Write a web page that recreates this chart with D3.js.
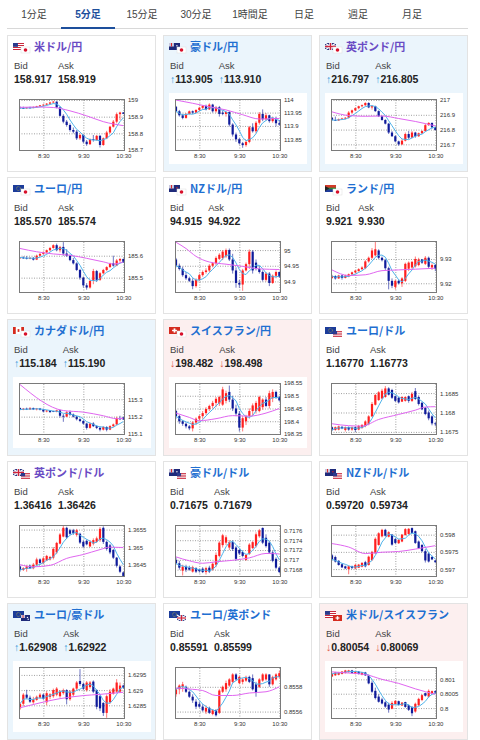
<!DOCTYPE html>
<html>
<head>
<meta charset="utf-8">
<script src="https://cdn.jsdelivr.net/npm/d3@7"></script>
<style>
body { margin: 0; background: #fff; }
.tab { font: 10px "Liberation Sans", "Noto Sans CJK JP", sans-serif; fill: #444; text-anchor: middle; }
.tab.on { font-weight: bold; fill: #1d4f9c; }
.title { font: bold 11px "Noto Sans CJK JP", sans-serif; }
.lbl { font: 9.5px "Liberation Sans", Arial, sans-serif; fill: #444; }
.val { font: bold 10.5px "Liberation Sans", Arial, sans-serif; fill: #222; }
.arr { font-weight: normal; }
.axis text { font: 6px "Liberation Sans", Arial, sans-serif; fill: #333; }
</style>
</head>
<body>
<svg id="chart" width="480" height="740"></svg>
<script>
// ---- data ----
const tabs = ['1分足', '5分足', '15分足', '30分足', '1時間足', '日足', '週足', '月足'];
const activeTab = '5分足';

const pairNames = ['米ドル/円', '豪ドル/円', '英ポンド/円', 'ユーロ/円', 'NZドル/円', 'ランド/円',
  'カナダドル/円', 'スイスフラン/円', 'ユーロ/ドル', '英ポンド/ドル', '豪ドル/ドル', 'NZドル/ドル',
  'ユーロ/豪ドル', 'ユーロ/英ポンド', '米ドル/スイスフラン'];
const flagPairs = [['us','jp'],['au','jp'],['gb','jp'],['eu','jp'],['nz','jp'],['za','jp'],['ca','jp'],['ch','jp'],
  ['eu','us'],['gb','us'],['au','us'],['nz','us'],['eu','au'],['eu','gb'],['us','ch']];
const bids = ['158.917','113.905','216.797','185.570','94.915','9.921','115.184','198.482',
  '1.16770','1.36416','0.71675','0.59720','1.62908','0.85591','0.80054'];
const asks = ['158.919','113.910','216.805','185.574','94.922','9.930','115.190','198.498',
  '1.16773','1.36426','0.71679','0.59734','1.62922','0.85599','0.80069'];
const moves = [0, 1, 1, 0, 0, 0, 1, -1, 0, 0, 0, 0, 1, 0, -1];
const visited = [1, 0, 1, 0, 0, 0, 0, 0, 0, 1, 0, 0, 0, 0, 0];

const times = ['7:55','8:00','8:05','8:10','8:15','8:20','8:25','8:30','8:35','8:40','8:45','8:50',
  '8:55','9:00','9:05','9:10','9:15','9:20','9:25','9:30','9:35','9:40','9:45','9:50',
  '9:55','10:00','10:05','10:10','10:15','10:20','10:25','10:30'];
const xTicks = ['8:30', '9:30', '10:30'];

const yDomains = [[158.694,159.006],[113.806,114.001],[216.655,217.007],[185.430,185.667],[94.863,95.029],
  [9.9160,9.9374],[115.094,115.394],[198.346,198.550],[1.16742,1.16876],[1.36415,1.36563],
  [0.71665,0.71771],[0.59677,0.59828],[1.62805,1.62976],[0.85554,0.85596],[0.79962,0.80143]];
const yTicks = [[158.7,158.8,158.9,159],[113.85,113.9,113.95,114],[216.7,216.8,216.9,217],[185.5,185.6],
  [94.9,94.95,95],[9.92,9.93],[115.1,115.2,115.3],[198.35,198.4,198.45,198.5,198.55],
  [1.1675,1.168,1.1685],[1.3645,1.365,1.3655],[0.7168,0.717,0.7172,0.7174,0.7176],
  [0.597,0.5975,0.598],[1.6285,1.629,1.6295],[0.8556,0.8558],[0.8,0.8005,0.801]];

// candles: [open, high, low, close]
const usdjpy = [[158.955,158.962,158.950,158.952],[158.952,158.960,158.948,158.950],[158.950,158.958,158.947,158.955],
  [158.955,158.960,158.950,158.953],[158.953,158.962,158.950,158.958],[158.958,158.965,158.955,158.962],
  [158.962,158.970,158.958,158.968],[158.968,158.975,158.962,158.972],[158.972,158.982,158.968,158.978],
  [158.978,158.990,158.975,158.985],[158.985,158.995,158.980,158.990],[158.990,158.992,158.950,158.955],
  [158.955,158.962,158.900,158.905],[158.905,158.915,158.860,158.870],[158.870,158.880,158.840,158.850],
  [158.850,158.860,158.810,158.820],[158.820,158.835,158.800,158.810],[158.810,158.820,158.760,158.770],
  [158.770,158.800,158.760,158.790],[158.790,158.795,158.740,158.750],[158.750,158.760,158.725,158.735],
  [158.735,158.770,158.730,158.765],[158.765,158.790,158.750,158.760],[158.760,158.790,158.755,158.785],
  [158.785,158.790,158.715,158.730],[158.730,158.775,158.725,158.770],[158.770,158.815,158.765,158.805],
  [158.805,158.845,158.800,158.840],[158.840,158.880,158.835,158.870],[158.870,158.925,158.860,158.915],
  [158.915,158.930,158.880,158.925],[158.925,158.928,158.915,158.917]];
const audjpy = [[113.972,113.975,113.950,113.955],[113.955,113.960,113.935,113.940],[113.940,113.945,113.925,113.930],
  [113.930,113.948,113.927,113.945],[113.945,113.958,113.942,113.955],[113.955,113.958,113.945,113.950],
  [113.950,113.962,113.947,113.960],[113.960,113.972,113.955,113.968],[113.968,113.978,113.962,113.975],
  [113.975,113.980,113.958,113.962],[113.962,113.985,113.960,113.980],[113.980,113.983,113.950,113.955],
  [113.955,113.975,113.950,113.970],[113.970,113.975,113.935,113.945],[113.950,113.958,113.940,113.945],
  [113.945,113.955,113.935,113.952],[113.952,113.955,113.898,113.905],[113.905,113.910,113.860,113.868],
  [113.868,113.875,113.840,113.850],[113.850,113.855,113.830,113.835],[113.835,113.840,113.818,113.828],
  [113.828,113.845,113.822,113.840],[113.840,113.900,113.835,113.895],[113.895,113.910,113.875,113.880],
  [113.880,113.918,113.872,113.912],[113.912,113.952,113.905,113.945],[113.945,113.962,113.918,113.925],
  [113.925,113.948,113.920,113.940],[113.940,113.942,113.912,113.918],[113.918,113.935,113.912,113.930],
  [113.930,113.935,113.898,113.910],[113.910,113.922,113.902,113.905]];
const gbpjpy = [[216.880,216.885,216.860,216.865],[216.865,216.888,216.858,216.862],[216.862,216.875,216.858,216.870],
  [216.870,216.880,216.865,216.875],[216.875,216.885,216.870,216.880],[216.880,216.925,216.875,216.915],
  [216.915,216.935,216.905,216.930],[216.930,216.950,216.925,216.945],[216.945,216.962,216.938,216.958],
  [216.958,216.970,216.950,216.965],[216.965,216.985,216.960,216.980],[216.980,216.985,216.945,216.950],
  [216.950,216.965,216.935,216.958],[216.958,216.962,216.920,216.925],[216.925,216.930,216.885,216.890],
  [216.890,216.895,216.860,216.865],[216.865,216.870,216.835,216.840],[216.840,216.845,216.770,216.780],
  [216.780,216.790,216.750,216.755],[216.755,216.760,216.715,216.720],[216.720,216.725,216.690,216.700],
  [216.700,216.735,216.695,216.725],[216.725,216.780,216.720,216.770],[216.770,216.790,216.735,216.745],
  [216.745,216.790,216.740,216.780],[216.780,216.785,216.745,216.755],[216.755,216.780,216.750,216.775],
  [216.775,216.795,216.770,216.790],[216.790,216.840,216.785,216.830],[216.830,216.850,216.825,216.845],
  [216.845,216.848,216.808,216.815],[216.815,216.822,216.795,216.797]];
const eurjpy = [[185.590,185.595,185.585,185.592],[185.592,185.597,185.585,185.588],[185.590,185.598,185.583,185.587],
  [185.587,185.594,185.584,185.590],[185.590,185.594,185.578,185.582],[185.582,185.605,185.580,185.600],
  [185.600,185.612,185.597,185.608],[185.608,185.620,185.604,185.615],[185.615,185.628,185.610,185.625],
  [185.625,185.640,185.620,185.635],[185.635,185.652,185.632,185.648],[185.648,185.655,185.620,185.625],
  [185.625,185.645,185.615,185.640],[185.640,185.662,185.600,185.610],[185.610,185.630,185.595,185.600],
  [185.600,185.605,185.575,185.580],[185.580,185.590,185.560,185.565],[185.565,185.570,185.530,185.535],
  [185.535,185.540,185.490,185.500],[185.500,185.505,185.455,185.465],[185.465,185.475,185.445,185.455],
  [185.455,185.490,185.450,185.485],[185.485,185.540,185.470,185.530],[185.530,185.535,185.480,185.490],
  [185.490,185.525,185.485,185.520],[185.520,185.540,185.515,185.535],[185.535,185.552,185.530,185.548],
  [185.548,185.568,185.545,185.565],[185.565,185.600,185.550,185.555],[185.555,185.585,185.552,185.578],
  [185.578,185.590,185.570,185.585],[185.585,185.588,185.568,185.570]];
const nzdjpy = [[94.970,94.975,94.945,94.950],[94.950,94.957,94.935,94.940],[94.940,94.947,94.915,94.920],
  [94.920,94.930,94.905,94.910],[94.910,94.915,94.898,94.902],[94.902,94.910,94.875,94.885],
  [94.885,94.910,94.880,94.905],[94.905,94.925,94.900,94.920],[94.920,94.935,94.915,94.930],
  [94.930,94.942,94.925,94.935],[94.935,94.955,94.930,94.950],[94.950,94.962,94.945,94.958],
  [94.958,94.980,94.952,94.975],[94.972,94.990,94.968,94.985],[94.975,95.000,94.968,94.995],
  [94.980,95.005,94.975,95.000],[95.000,95.005,94.965,94.970],[94.970,94.988,94.925,94.935],
  [94.935,94.945,94.880,94.895],[94.895,94.905,94.880,94.890],[94.890,94.940,94.870,94.935],
  [94.935,94.960,94.932,94.955],[94.955,95.002,94.940,94.995],[94.995,95.000,94.925,94.935],
  [94.960,94.970,94.935,94.940],[94.940,94.950,94.925,94.930],[94.930,94.935,94.900,94.905],
  [94.905,94.930,94.900,94.925],[94.925,94.930,94.885,94.895],[94.895,94.922,94.892,94.918],
  [94.918,94.935,94.910,94.930],[94.930,94.932,94.912,94.915]];
const zarjpy = [[9.9222,9.9235,9.9218,9.9230],[9.9230,9.9233,9.9215,9.9220],[9.9220,9.9235,9.9218,9.9232],
  [9.9232,9.9235,9.9215,9.9222],[9.9222,9.9235,9.9220,9.9232],[9.9228,9.9240,9.9225,9.9237],
  [9.9237,9.9248,9.9232,9.9245],[9.9245,9.9255,9.9240,9.9252],[9.9250,9.9262,9.9248,9.9258],
  [9.9258,9.9270,9.9255,9.9265],[9.9262,9.9295,9.9258,9.9290],[9.9290,9.9310,9.9285,9.9305],
  [9.9305,9.9345,9.9300,9.9335],[9.9315,9.9372,9.9310,9.9340],[9.9335,9.9340,9.9300,9.9305],
  [9.9305,9.9310,9.9290,9.9295],[9.9295,9.9300,9.9255,9.9262],[9.9262,9.9268,9.9175,9.9210],
  [9.9210,9.9220,9.9180,9.9190],[9.9185,9.9215,9.9175,9.9210],[9.9210,9.9215,9.9195,9.9200],
  [9.9200,9.9225,9.9185,9.9220],[9.9210,9.9285,9.9205,9.9280],[9.9260,9.9290,9.9250,9.9285],
  [9.9265,9.9292,9.9260,9.9288],[9.9270,9.9310,9.9265,9.9300],[9.9275,9.9305,9.9270,9.9298],
  [9.9298,9.9300,9.9280,9.9285],[9.9280,9.9312,9.9275,9.9305],[9.9305,9.9310,9.9260,9.9268],
  [9.9265,9.9282,9.9255,9.9275],[9.9275,9.9280,9.9250,9.9260]];
const cadjpy = [[115.250,115.252,115.238,115.240],[115.240,115.250,115.237,115.246],[115.246,115.252,115.238,115.241],
  [115.241,115.255,115.239,115.250],[115.250,115.252,115.238,115.242],[115.242,115.250,115.236,115.247],
  [115.247,115.250,115.236,115.240],[115.240,115.246,115.225,115.230],[115.230,115.238,115.225,115.235],
  [115.235,115.238,115.222,115.226],[115.232,115.234,115.226,115.228],[115.228,115.240,115.225,115.236],
  [115.236,115.240,115.195,115.205],[115.205,115.215,115.170,115.200],[115.200,115.232,115.198,115.225],
  [115.225,115.235,115.205,115.212],[115.212,115.218,115.195,115.200],[115.200,115.205,115.178,115.185],
  [115.185,115.190,115.168,115.175],[115.175,115.180,115.155,115.160],[115.160,115.165,115.125,115.135],
  [115.135,115.165,115.130,115.160],[115.160,115.168,115.140,115.145],[115.145,115.150,115.128,115.135],
  [115.135,115.145,115.115,115.125],[115.125,115.145,115.120,115.140],[115.140,115.145,115.115,115.125],
  [115.125,115.150,115.122,115.145],[115.145,115.160,115.140,115.155],[115.155,115.200,115.150,115.190],
  [115.190,115.205,115.180,115.185],[115.195,115.200,115.182,115.184]];
const chfjpy = [[198.440,198.445,198.410,198.420],[198.420,198.425,198.390,198.400],[198.400,198.405,198.382,198.390],
  [198.390,198.395,198.372,198.380],[198.380,198.385,198.365,198.372],[198.372,198.400,198.360,198.395],
  [198.395,198.415,198.385,198.410],[198.410,198.425,198.400,198.420],[198.420,198.440,198.410,198.432],
  [198.432,198.455,198.425,198.448],[198.448,198.465,198.440,198.460],[198.460,198.480,198.450,198.472],
  [198.472,198.495,198.455,198.488],[198.470,198.500,198.460,198.495],[198.465,198.535,198.460,198.525],
  [198.480,198.520,198.470,198.510],[198.515,198.540,198.475,198.485],[198.485,198.500,198.440,198.450],
  [198.450,198.465,198.420,198.430],[198.430,198.440,198.360,198.375],[198.375,198.420,198.360,198.412],
  [198.400,198.425,198.385,198.420],[198.420,198.450,198.410,198.440],[198.440,198.470,198.420,198.462],
  [198.440,198.480,198.430,198.472],[198.440,198.500,198.435,198.495],[198.455,198.490,198.445,198.485],
  [198.485,198.495,198.455,198.460],[198.460,198.520,198.450,198.510],[198.490,198.525,198.475,198.515],
  [198.515,198.520,198.488,198.495],[198.495,198.500,198.478,198.482]];
const eurusd = [[1.16762,1.16764,1.16752,1.16755],[1.16755,1.16764,1.16753,1.16762],[1.16756,1.16766,1.16754,1.16764],
  [1.16763,1.16765,1.16757,1.16759],[1.16755,1.16764,1.16751,1.16762],[1.16762,1.16764,1.16753,1.16756],
  [1.16756,1.16764,1.16753,1.16762],[1.16762,1.16764,1.16750,1.16755],[1.16756,1.16768,1.16754,1.16765],
  [1.16760,1.16770,1.16758,1.16768],[1.16765,1.16780,1.16762,1.16777],[1.16770,1.16793,1.16767,1.16790],
  [1.16790,1.16827,1.16788,1.16822],[1.16820,1.16848,1.16818,1.16845],[1.16832,1.16855,1.16830,1.16852],
  [1.16836,1.16861,1.16834,1.16856],[1.16840,1.16868,1.16838,1.16862],[1.16862,1.16865,1.16844,1.16846],
  [1.16858,1.16861,1.16835,1.16838],[1.16842,1.16844,1.16827,1.16830],[1.16838,1.16840,1.16823,1.16826],
  [1.16828,1.16842,1.16827,1.16840],[1.16830,1.16842,1.16828,1.16840],[1.16842,1.16844,1.16825,1.16830],
  [1.16830,1.16853,1.16827,1.16848],[1.16855,1.16863,1.16832,1.16835],[1.16840,1.16844,1.16818,1.16822],
  [1.16825,1.16827,1.16806,1.16808],[1.16812,1.16814,1.16793,1.16796],[1.16800,1.16805,1.16780,1.16785],
  [1.16790,1.16793,1.16767,1.16772],[1.16772,1.16775,1.16765,1.16770]];
const gbpusd = [[1.36445,1.36448,1.36430,1.36435],[1.36435,1.36443,1.36432,1.36440],[1.36438,1.36448,1.36430,1.36445],
  [1.36447,1.36450,1.36438,1.36440],[1.36440,1.36455,1.36437,1.36450],[1.36450,1.36470,1.36448,1.36465],
  [1.36465,1.36468,1.36450,1.36455],[1.36455,1.36472,1.36452,1.36468],[1.36462,1.36478,1.36460,1.36475],
  [1.36465,1.36475,1.36462,1.36472],[1.36470,1.36500,1.36465,1.36495],[1.36485,1.36515,1.36480,1.36512],
  [1.36510,1.36540,1.36508,1.36536],[1.36530,1.36560,1.36528,1.36555],[1.36555,1.36558,1.36523,1.36528],
  [1.36548,1.36552,1.36535,1.36538],[1.36548,1.36552,1.36535,1.36540],[1.36535,1.36552,1.36530,1.36548],
  [1.36538,1.36541,1.36509,1.36513],[1.36515,1.36520,1.36498,1.36502],[1.36518,1.36522,1.36505,1.36508],
  [1.36502,1.36520,1.36500,1.36515],[1.36510,1.36525,1.36505,1.36520],[1.36515,1.36530,1.36512,1.36525],
  [1.36520,1.36557,1.36515,1.36552],[1.36555,1.36559,1.36509,1.36515],[1.36515,1.36519,1.36490,1.36495],
  [1.36505,1.36509,1.36480,1.36485],[1.36492,1.36495,1.36466,1.36470],[1.36470,1.36472,1.36442,1.36447],
  [1.36445,1.36448,1.36426,1.36430],[1.36428,1.36430,1.36416,1.36418]];
const audusd = [[0.71700,0.71705,0.71690,0.71693],[0.71693,0.71698,0.71680,0.71684],[0.71678,0.71690,0.71668,0.71686],
  [0.71686,0.71690,0.71675,0.71680],[0.71684,0.71688,0.71678,0.71680],[0.71676,0.71688,0.71674,0.71685],
  [0.71683,0.71685,0.71673,0.71676],[0.71680,0.71682,0.71674,0.71677],[0.71682,0.71685,0.71673,0.71675],
  [0.71675,0.71686,0.71670,0.71683],[0.71684,0.71688,0.71673,0.71676],[0.71680,0.71695,0.71678,0.71692],
  [0.71690,0.71715,0.71685,0.71710],[0.71708,0.71738,0.71705,0.71735],[0.71730,0.71753,0.71725,0.71750],
  [0.71735,0.71750,0.71730,0.71746],[0.71725,0.71740,0.71720,0.71736],[0.71736,0.71740,0.71718,0.71722],
  [0.71725,0.71728,0.71698,0.71702],[0.71720,0.71722,0.71710,0.71713],[0.71716,0.71719,0.71705,0.71708],
  [0.71700,0.71712,0.71698,0.71710],[0.71712,0.71734,0.71710,0.71731],[0.71724,0.71738,0.71722,0.71736],
  [0.71728,0.71756,0.71725,0.71752],[0.71748,0.71763,0.71745,0.71760],[0.71765,0.71766,0.71732,0.71735],
  [0.71745,0.71752,0.71725,0.71728],[0.71735,0.71739,0.71712,0.71715],[0.71715,0.71719,0.71695,0.71698],
  [0.71702,0.71705,0.71681,0.71684],[0.71684,0.71686,0.71673,0.71675]];
const nzdusd = [[0.59740,0.59744,0.59724,0.59728],[0.59735,0.59739,0.59719,0.59722],[0.59724,0.59726,0.59710,0.59712],
  [0.59714,0.59716,0.59703,0.59705],[0.59708,0.59710,0.59700,0.59702],[0.59700,0.59710,0.59685,0.59708],
  [0.59708,0.59710,0.59700,0.59703],[0.59702,0.59715,0.59700,0.59712],[0.59704,0.59715,0.59703,0.59713],
  [0.59707,0.59720,0.59705,0.59718],[0.59720,0.59724,0.59705,0.59708],[0.59712,0.59739,0.59710,0.59736],
  [0.59726,0.59753,0.59724,0.59750],[0.59746,0.59792,0.59744,0.59788],[0.59770,0.59807,0.59768,0.59804],
  [0.59795,0.59817,0.59792,0.59814],[0.59814,0.59817,0.59794,0.59797],[0.59794,0.59810,0.59792,0.59807],
  [0.59800,0.59802,0.59768,0.59771],[0.59787,0.59790,0.59773,0.59776],[0.59775,0.59787,0.59773,0.59785],
  [0.59780,0.59802,0.59778,0.59800],[0.59799,0.59819,0.59797,0.59816],[0.59802,0.59819,0.59800,0.59817],
  [0.59819,0.59821,0.59802,0.59805],[0.59810,0.59812,0.59773,0.59776],[0.59780,0.59783,0.59758,0.59761],
  [0.59770,0.59773,0.59749,0.59752],[0.59752,0.59758,0.59719,0.59725],[0.59745,0.59749,0.59719,0.59722],
  [0.59735,0.59739,0.59726,0.59728],[0.59725,0.59727,0.59718,0.59720]];
const euraud = [[1.62840,1.62860,1.62835,1.62855],[1.62855,1.62890,1.62848,1.62885],[1.62885,1.62901,1.62870,1.62875],
  [1.62875,1.62882,1.62858,1.62862],[1.62860,1.62878,1.62855,1.62870],[1.62868,1.62882,1.62865,1.62878],
  [1.62875,1.62890,1.62872,1.62885],[1.62885,1.62888,1.62868,1.62872],[1.62860,1.62897,1.62850,1.62890],
  [1.62878,1.62890,1.62870,1.62886],[1.62880,1.62905,1.62875,1.62900],[1.62885,1.62910,1.62880,1.62905],
  [1.62880,1.62900,1.62875,1.62895],[1.62890,1.62905,1.62885,1.62900],[1.62900,1.62903,1.62853,1.62870],
  [1.62870,1.62900,1.62865,1.62895],[1.62885,1.62908,1.62880,1.62905],[1.62905,1.62930,1.62900,1.62925],
  [1.62930,1.62969,1.62914,1.62920],[1.62920,1.62925,1.62900,1.62905],[1.62900,1.62930,1.62895,1.62925],
  [1.62910,1.62930,1.62905,1.62925],[1.62928,1.62932,1.62890,1.62895],[1.62900,1.62903,1.62837,1.62845],
  [1.62880,1.62886,1.62831,1.62840],[1.62858,1.62860,1.62815,1.62825],[1.62825,1.62886,1.62809,1.62880],
  [1.62860,1.62903,1.62855,1.62895],[1.62888,1.62908,1.62885,1.62905],[1.62895,1.62936,1.62890,1.62925],
  [1.62895,1.62925,1.62890,1.62915],[1.62915,1.62918,1.62905,1.62908]];
const eurgbp = [[0.85574,0.85579,0.85572,0.85578],[0.85578,0.85582,0.85574,0.85581],[0.85580,0.85584,0.85576,0.85582],
  [0.85580,0.85581,0.85575,0.85576],[0.85576,0.85577,0.85571,0.85572],[0.85572,0.85574,0.85567,0.85569],
  [0.85568,0.85570,0.85562,0.85564],[0.85566,0.85568,0.85563,0.85564],[0.85564,0.85566,0.85560,0.85561],
  [0.85560,0.85565,0.85558,0.85563],[0.85563,0.85564,0.85558,0.85559],[0.85558,0.85562,0.85557,0.85561],
  [0.85561,0.85562,0.85556,0.85557],[0.85559,0.85578,0.85558,0.85577],[0.85576,0.85581,0.85575,0.85580],
  [0.85578,0.85585,0.85576,0.85583],[0.85581,0.85587,0.85580,0.85586],[0.85584,0.85591,0.85583,0.85590],
  [0.85590,0.85591,0.85585,0.85586],[0.85583,0.85589,0.85582,0.85588],[0.85584,0.85587,0.85582,0.85586],
  [0.85585,0.85589,0.85584,0.85588],[0.85588,0.85589,0.85583,0.85584],[0.85587,0.85590,0.85577,0.85578],
  [0.85582,0.85584,0.85572,0.85575],[0.85580,0.85587,0.85579,0.85586],[0.85585,0.85591,0.85584,0.85590],
  [0.85586,0.85591,0.85585,0.85590],[0.85590,0.85590,0.85580,0.85582],[0.85582,0.85589,0.85581,0.85588],
  [0.85586,0.85591,0.85585,0.85590],[0.85588,0.85593,0.85587,0.85591]];
const usdchf = [[0.80110,0.80122,0.80108,0.80119],[0.80114,0.80126,0.80112,0.80124],[0.80116,0.80126,0.80114,0.80124],
  [0.80119,0.80129,0.80117,0.80127],[0.80122,0.80133,0.80120,0.80131],[0.80125,0.80133,0.80123,0.80131],
  [0.80131,0.80133,0.80120,0.80122],[0.80119,0.80129,0.80117,0.80127],[0.80127,0.80129,0.80117,0.80119],
  [0.80116,0.80126,0.80114,0.80124],[0.80124,0.80126,0.80112,0.80114],[0.80114,0.80117,0.80083,0.80086],
  [0.80088,0.80094,0.80053,0.80057],[0.80060,0.80071,0.80030,0.80035],[0.80040,0.80048,0.80019,0.80022],
  [0.80030,0.80036,0.80013,0.80016],[0.80020,0.80024,0.80001,0.80005],[0.80012,0.80019,0.79984,0.79995],
  [0.79998,0.80024,0.79996,0.80018],[0.80014,0.80028,0.80012,0.80025],[0.80024,0.80026,0.80009,0.80011],
  [0.80009,0.80021,0.80007,0.80019],[0.80021,0.80022,0.80001,0.80004],[0.80010,0.80013,0.79990,0.79994],
  [0.80004,0.80007,0.79972,0.79982],[0.79988,0.80019,0.79984,0.80015],[0.80010,0.80036,0.80007,0.80032],
  [0.80028,0.80048,0.80024,0.80045],[0.80052,0.80054,0.80040,0.80043],[0.80040,0.80065,0.80036,0.80060],
  [0.80050,0.80061,0.80048,0.80059],[0.80059,0.80062,0.80050,0.80054]];
const candleSets = [usdjpy, audjpy, gbpjpy, eurjpy, nzdjpy, zarjpy, cadjpy, chfjpy,
  eurusd, gbpusd, audusd, nzdusd, euraud, eurgbp, usdchf];

// long moving average: [candle index, value]
const longMA = [
  [[0,158.956],[5,158.958],[10,158.955],[15,158.935],[20,158.905],[25,158.87],[31,158.846]],
  [[0,113.997],[5,113.985],[10,113.972],[15,113.96],[20,113.942],[25,113.926],[31,113.928]],
  [[0,216.92],[5,216.895],[10,216.89],[15,216.892],[20,216.875],[25,216.855],[31,216.825]],
  [[0,185.633],[5,185.618],[10,185.608],[15,185.602],[20,185.588],[25,185.572],[28,185.562],[31,185.572]],
  [[0,95.025],[3,95.005],[6,94.98],[10,94.962],[15,94.955],[20,94.948],[25,94.94],[31,94.938]],
  [[0,9.9255],[5,9.9232],[10,9.9235],[15,9.9252],[20,9.9255],[25,9.9258],[31,9.9262]],
  [[0,115.385],[13,115.235],[19,115.226],[25,115.205],[29,115.188],[31,115.19]],
  [[0,198.432],[4,198.415],[7,198.402],[12,198.41],[17,198.422],[22,198.42],[27,198.432],[31,198.45]],
  [[0,1.16771],[5,1.16766],[9,1.16765],[14,1.16782],[20,1.16795],[25,1.16806],[28,1.16814],[31,1.16815]],
  [[0,1.3645],[4,1.36444],[9,1.36448],[14,1.36468],[19,1.36479],[24,1.36493],[27,1.365],[31,1.36499]],
  [[0,0.71706],[4,0.71698],[8,0.71693],[12,0.71696],[17,0.71699],[22,0.71704],[27,0.71713],[31,0.71712]],
  [[0,0.59774],[5,0.59764],[10,0.59745],[15,0.59749],[20,0.59751],[25,0.59758],[31,0.59768]],
  [[0,1.62842],[6,1.62858],[12,1.62872],[19,1.62882],[24,1.62886],[31,1.62893]],
  [[0,0.85579],[5,0.85578],[8,0.85577],[12,0.85573],[17,0.85573],[22,0.85575],[27,0.85576],[31,0.8558]],
  [[0,0.80126],[5,0.80122],[10,0.80117],[15,0.801],[20,0.80086],[25,0.80067],[31,0.80048]]
];

// ---- layout ----
const colX = [7, 163, 319];
const rowY = [35, 177, 319, 461, 603];
const PANEL_W = 149, PANEL_H = 137;
const PW = 106, PH = 52;

const svg = d3.select('#chart');

// tabs
const tabX = d3.scaleBand().domain(tabs).range([7, 439]);
svg.append('line').attr('x1', 7).attr('x2', 468).attr('y1', 28.5).attr('y2', 28.5)
  .attr('stroke', '#d8d8d8');
svg.selectAll('text.tab').data(tabs).join('text')
  .attr('class', d => d === activeTab ? 'tab on' : 'tab')
  .attr('x', d => tabX(d) + tabX.bandwidth() / 2)
  .attr('y', 18)
  .text(d => d);
svg.append('rect').attr('x', tabX(activeTab)).attr('y', 27).attr('width', tabX.bandwidth())
  .attr('height', 2).attr('fill', '#1d4f9c');

// flags
function drawFlag(g, code, x, y, w, h) {
  const f = g.append('g').attr('transform', `translate(${x},${y})`);
  const r = (a, b, c, d, fill) => f.append('rect').attr('x', a).attr('y', b).attr('width', c).attr('height', d).attr('fill', fill);
  if (code === 'jp') {
    r(0, 0, w, h, '#fff').attr('stroke', '#ddd').attr('stroke-width', 0.5);
    f.append('circle').attr('cx', w / 2).attr('cy', h / 2).attr('r', h * 0.3).attr('fill', '#d7102a');
  } else if (code === 'us') {
    r(0, 0, w, h, '#fff');
    for (let i = 0; i < 4; i++) r(0, i * h / 3.5, w, h / 7, '#c8283c');
    r(0, 0, w * 0.45, h * 0.55, '#2b3a8c');
  } else if (code === 'au' || code === 'nz') {
    r(0, 0, w, h, '#1f2a7a');
    r(0, 0, w * 0.45, h * 0.5, '#c8c8e0');
    r(w * 0.18, 0, w * 0.09, h * 0.5, '#d22');
    f.append('circle').attr('cx', w * 0.72).attr('cy', h * 0.4).attr('r', 0.7).attr('fill', code === 'au' ? '#fff' : '#d22');
    f.append('circle').attr('cx', w * 0.8).attr('cy', h * 0.72).attr('r', 0.7).attr('fill', code === 'au' ? '#fff' : '#d22');
  } else if (code === 'gb') {
    r(0, 0, w, h, '#24307e');
    f.append('path').attr('d', `M0,0L${w},${h}M${w},0L0,${h}`).attr('stroke', '#fff').attr('stroke-width', 1.4);
    r(w * 0.38, 0, w * 0.24, h, '#fff');
    r(0, h * 0.33, w, h * 0.34, '#fff');
    r(w * 0.44, 0, w * 0.12, h, '#d0243a');
    r(0, h * 0.4, w, h * 0.2, '#d0243a');
  } else if (code === 'eu') {
    r(0, 0, w, h, '#1c3c9a');
    f.append('circle').attr('cx', w / 2).attr('cy', h / 2).attr('r', h * 0.28)
      .attr('fill', 'none').attr('stroke', '#e8d020').attr('stroke-width', 0.6).attr('stroke-dasharray', '0.6,0.6');
  } else if (code === 'za') {
    r(0, 0, w, h / 2, '#d23a2a');
    r(0, h / 2, w, h / 2, '#1f3c9a');
    r(0, h * 0.38, w, h * 0.24, '#2a8a3a');
    f.append('path').attr('d', `M0,${h * 0.15}L${w * 0.4},${h / 2}L0,${h * 0.85}Z`).attr('fill', '#222');
  } else if (code === 'ca') {
    r(0, 0, w, h, '#fff');
    r(0, 0, w * 0.25, h, '#d52b1e');
    r(w * 0.75, 0, w * 0.25, h, '#d52b1e');
    r(w * 0.42, h * 0.3, w * 0.16, h * 0.4, '#d52b1e');
  } else if (code === 'ch') {
    r(0, 0, w, h, '#d52b1e');
    r(w * 0.42, h * 0.2, w * 0.16, h * 0.6, '#fff');
    r(w * 0.28, h * 0.4, w * 0.44, h * 0.2, '#fff');
  }
}

const parseT = d3.timeParse('%H:%M');
const parseS = d3.timeParse('%H:%M:%S');
const x = d3.scaleTime().domain([parseS('07:53:30'), parseS('10:32:30')]).range([0, PW]);

pairNames.forEach((name, k) => {
  const px = colX[k % 3], py = rowY[Math.floor(k / 3)];
  const g = svg.append('g').attr('transform', `translate(${px},${py})`);
  const bg = moves[k] > 0 ? '#ebf5fc' : moves[k] < 0 ? '#fcefef' : '#fff';
  g.append('rect').attr('x', 0.5).attr('y', 0.5).attr('width', PANEL_W - 1).attr('height', PANEL_H - 1)
    .attr('fill', bg).attr('stroke', '#e3e3e3');

  drawFlag(g, flagPairs[k][0], 6, 8, 11, 7);
  drawFlag(g, flagPairs[k][1], 14, 12, 9, 6);

  g.append('text').attr('class', 'title').attr('x', 27).attr('y', 16)
    .attr('fill', visited[k] ? '#6a4bc4' : '#1f6fd1').text(name);

  const arrowCol = moves[k] > 0 ? '#3a9ad9' : '#e0604a';
  const arrow = moves[k] > 0 ? '↑' : '↓';
  g.append('text').attr('class', 'lbl').attr('x', 7).attr('y', 34).text('Bid');
  const bt = g.append('text').attr('class', 'val').attr('x', 7).attr('y', 47.5);
  if (moves[k]) bt.append('tspan').attr('class', 'arr').attr('fill', arrowCol).text(arrow);
  bt.append('tspan').text(bids[k]);
  const askX = 7 + bt.node().getComputedTextLength() + 6;
  g.append('text').attr('class', 'lbl').attr('x', askX).attr('y', 34).text('Ask');
  const at = g.append('text').attr('class', 'val').attr('x', askX).attr('y', 47.5);
  if (moves[k]) at.append('tspan').attr('class', 'arr').attr('fill', arrowCol).text(arrow);
  at.append('tspan').text(asks[k]);

  if (moves[k]) g.append('rect').attr('x', 6).attr('y', 58).attr('width', 138).attr('height', 71).attr('fill', '#fff');

  const p = g.append('g').attr('transform', 'translate(12,64)');
  const y = d3.scaleLinear().domain(yDomains[k]).range([PH, 0]);

  // grid
  p.append('g')
    .call(d3.axisLeft(y).tickValues(yTicks[k]).tickSize(-PW).tickFormat(''))
    .call(s => { s.select('.domain').remove(); s.selectAll('line').attr('stroke', '#a0a0a0').attr('stroke-dasharray', '1,1.5'); });
  p.append('g').attr('transform', `translate(0,${PH})`)
    .call(d3.axisBottom(x).tickValues(xTicks.map(parseT)).tickSize(-PH).tickFormat(''))
    .call(s => { s.select('.domain').remove(); s.selectAll('line').attr('stroke', '#a0a0a0').attr('stroke-dasharray', '1,1.5'); });

  const clipId = 'clip' + k;
  p.append('clipPath').attr('id', clipId).append('rect').attr('width', PW).attr('height', PH);
  const plot = p.append('g').attr('clip-path', `url(#${clipId})`);

  const data = candleSets[k].map((c, i) => ({ t: parseT(times[i]), o: c[0], h: c[1], l: c[2], c: c[3] }));
  const col = d => d.c >= d.o ? '#ff1f1f' : '#0f1b9a';

  plot.selectAll('line.wick').data(data).join('line').attr('class', 'wick')
    .attr('x1', d => x(d.t)).attr('x2', d => x(d.t))
    .attr('y1', d => y(d.h)).attr('y2', d => y(d.l))
    .attr('stroke', col).attr('stroke-width', 0.8).attr('stroke-opacity', 0.75);
  plot.selectAll('rect.body').data(data).join('rect').attr('class', 'body')
    .attr('x', d => x(d.t) - 1.1).attr('width', 2.2)
    .attr('y', d => y(Math.max(d.o, d.c)))
    .attr('height', d => Math.max(0.8, Math.abs(y(d.o) - y(d.c))))
    .attr('fill', col);

  // short moving average of closes
  const sma = data.map((d, i) => ({ t: d.t, v: d3.mean(data.slice(Math.max(0, i - 4), i + 1), e => e.c) }));
  plot.append('path').datum(sma)
    .attr('d', d3.line().x(d => x(d.t)).y(d => y(d.v)))
    .attr('fill', 'none').attr('stroke', '#4fb3ea').attr('stroke-width', 1);

  plot.append('path').datum(longMA[k])
    .attr('d', d3.line().curve(d3.curveMonotoneX).x(d => x(parseT(times[d[0]]))).y(d => y(d[1])))
    .attr('fill', 'none').attr('stroke', '#e066f0').attr('stroke-width', 1);

  p.append('rect').attr('x', 0.5).attr('y', 0.5).attr('width', PW - 1).attr('height', PH - 1)
    .attr('fill', 'none').attr('stroke', '#7a7a7a');

  p.append('g').attr('class', 'axis').attr('transform', `translate(${PW},0)`)
    .call(d3.axisRight(y).tickValues(yTicks[k]).tickSize(0).tickPadding(3).tickFormat(String))
    .call(s => s.select('.domain').remove());
  p.append('g').attr('class', 'axis').attr('transform', `translate(0,${PH})`)
    .call(d3.axisBottom(x).tickValues(xTicks.map(parseT)).tickSize(0).tickPadding(3).tickFormat(d3.timeFormat('%-H:%M')))
    .call(s => s.select('.domain').remove());
});
</script>
</body>
</html>
